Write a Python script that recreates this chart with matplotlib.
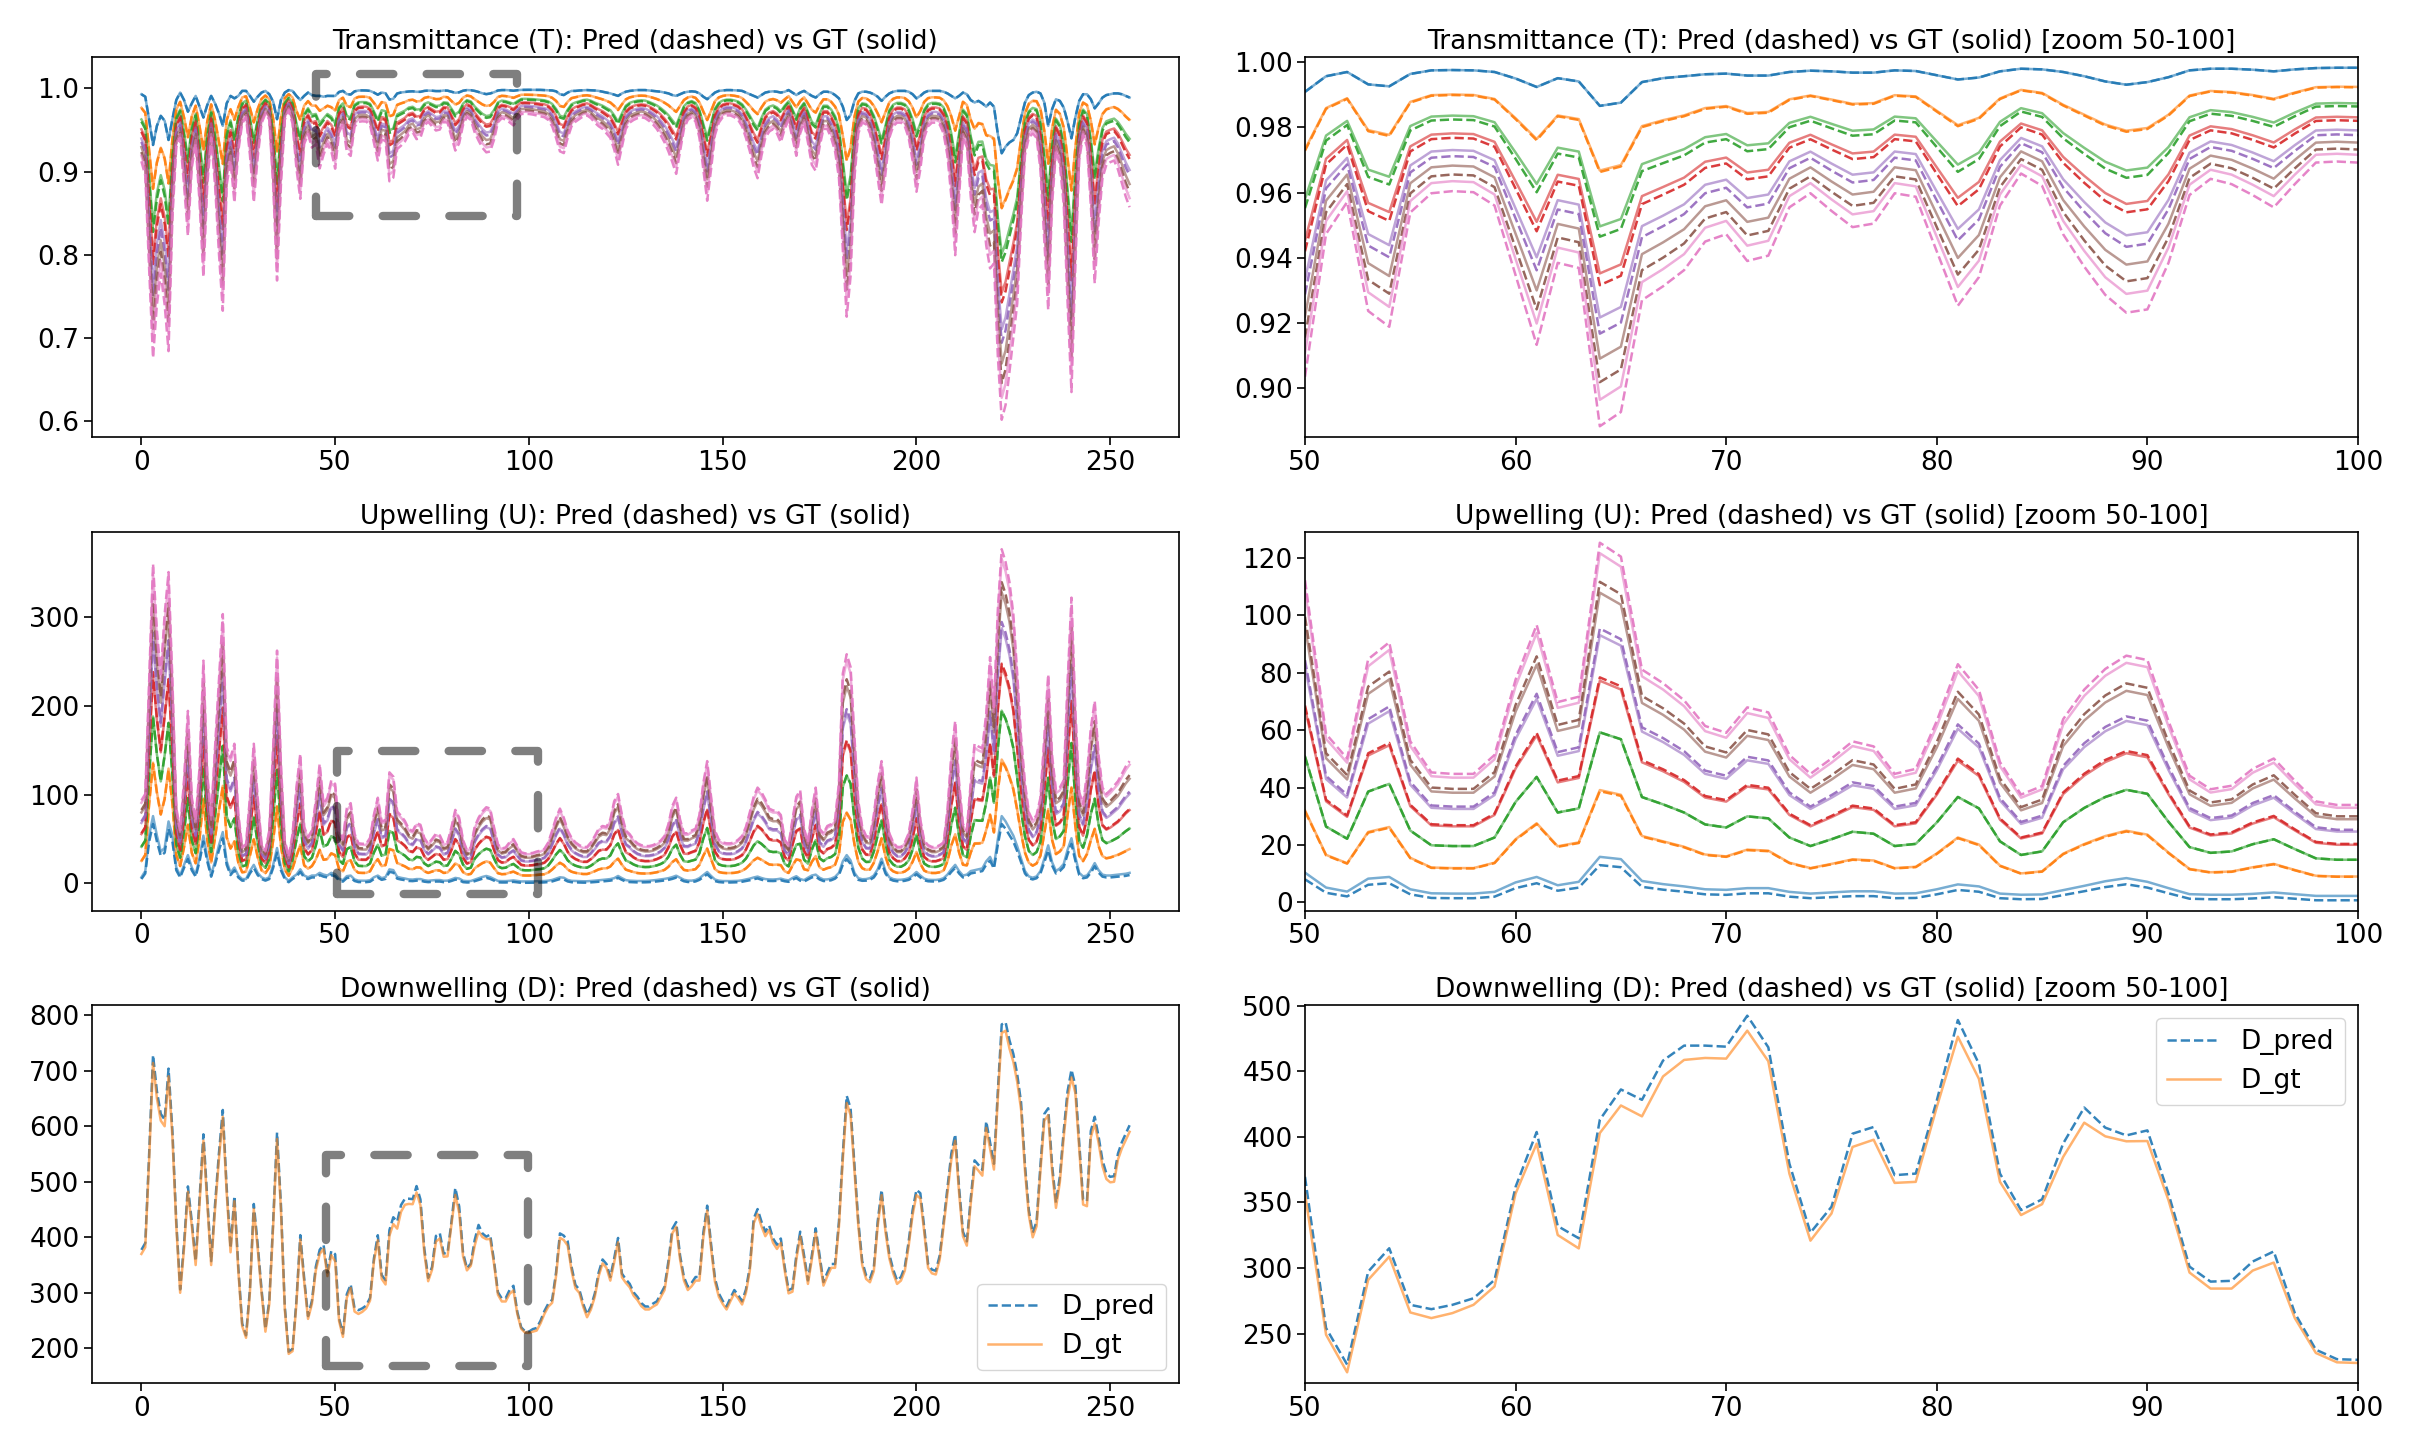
import numpy as np
import matplotlib
matplotlib.use("Agg")
import matplotlib.pyplot as plt
from matplotlib.patches import Rectangle

# ---------------- data ----------------
x = np.arange(256)

# Transmittance: top-most curve (blue) and bottom-most curve (pink), GT
T_top = [
    0.993, 0.990, 0.962, 0.932, 0.955, 0.967, 0.961, 0.938, 0.963, 0.986,
    0.995, 0.986, 0.972, 0.982, 0.991, 0.978, 0.965, 0.980, 0.991, 0.982,
    0.970, 0.955, 0.982, 0.991, 0.988, 0.991, 0.997, 0.997, 0.991, 0.984,
    0.990, 0.995, 0.997, 0.993, 0.984, 0.963, 0.986, 0.995, 0.998, 0.997,
    0.991, 0.986, 0.991, 0.995, 0.992, 0.991, 0.991, 0.990, 0.991, 0.991,
    0.9909, 0.9957, 0.9970, 0.9932, 0.9926, 0.9964, 0.9975, 0.9976, 0.9975, 0.9970,
    0.9950, 0.9924, 0.9951, 0.9941, 0.9866, 0.9876, 0.9939, 0.9951, 0.9957, 0.9963,
    0.9965, 0.9959, 0.9959, 0.9970, 0.9974, 0.9972, 0.9968, 0.9968, 0.9975, 0.9973,
    0.9960, 0.9947, 0.9953, 0.9972, 0.9980, 0.9978, 0.9970, 0.9957, 0.9941, 0.9931,
    0.9939, 0.9954, 0.9975, 0.9980, 0.9980, 0.9977, 0.9972, 0.9978, 0.9982, 0.9983,
    0.9983, 0.9983, 0.9983, 0.9982, 0.9980, 0.9978, 0.9975, 0.9965, 0.993, 0.992,
    0.995, 0.997, 0.997, 0.9975, 0.9978, 0.998, 0.9978, 0.9975, 0.997, 0.996,
    0.995, 0.994, 0.9925, 0.991, 0.994, 0.996, 0.997, 0.9975, 0.998, 0.998,
    0.998, 0.9975, 0.997, 0.9965, 0.996, 0.995, 0.994, 0.992, 0.991, 0.993,
    0.995, 0.996, 0.9965, 0.996, 0.994, 0.990, 0.987, 0.991, 0.995, 0.997,
    0.9975, 0.998, 0.998, 0.9978, 0.9975, 0.997, 0.995, 0.993, 0.991, 0.989,
    0.992, 0.995, 0.996, 0.9965, 0.996, 0.995, 0.996, 0.998, 0.995, 0.992,
    0.995, 0.997, 0.994, 0.991, 0.989, 0.993, 0.996, 0.996, 0.995, 0.992,
    0.988, 0.978, 0.962, 0.968, 0.985, 0.994, 0.996, 0.996, 0.995, 0.993,
    0.990, 0.985, 0.990, 0.994, 0.996, 0.997, 0.997, 0.997, 0.996, 0.993,
    0.988, 0.991, 0.995, 0.997, 0.997, 0.997, 0.997, 0.996, 0.994, 0.991,
    0.988, 0.991, 0.995, 0.993, 0.986, 0.983, 0.985, 0.982, 0.978, 0.983,
    0.978, 0.945, 0.922, 0.930, 0.935, 0.938, 0.946, 0.965, 0.983, 0.992,
    0.995, 0.996, 0.994, 0.983, 0.955, 0.975, 0.987, 0.985, 0.977, 0.960,
    0.940, 0.965, 0.985, 0.993, 0.993, 0.987, 0.976, 0.982, 0.989, 0.992,
    0.993, 0.994, 0.994, 0.993, 0.991, 0.989,
]
T_bottom = [
    0.919, 0.903, 0.797, 0.697, 0.758, 0.793, 0.758, 0.705, 0.854, 0.934,
    0.945, 0.892, 0.835, 0.911, 0.938, 0.873, 0.789, 0.892, 0.945, 0.892,
    0.816, 0.751, 0.892, 0.919, 0.873, 0.930, 0.961, 0.968, 0.926, 0.873,
    0.923, 0.961, 0.972, 0.965, 0.892, 0.785, 0.892, 0.965, 0.976, 0.961,
    0.911, 0.877, 0.938, 0.949, 0.934, 0.938, 0.911, 0.926, 0.938, 0.930,
    0.9107, 0.9513, 0.9604, 0.9294, 0.9249, 0.9574, 0.9629, 0.9635, 0.9632, 0.9594,
    0.9396, 0.9198, 0.9431, 0.9416, 0.8964, 0.9005, 0.9325, 0.9365, 0.9411, 0.9492,
    0.9513, 0.9437, 0.9452, 0.9589, 0.9629, 0.9579, 0.9533, 0.9543, 0.9629, 0.9619,
    0.9464, 0.9310, 0.9391, 0.9594, 0.9685, 0.9650, 0.9513, 0.9421, 0.9340, 0.9289,
    0.9299, 0.9431, 0.9624, 0.9670, 0.9655, 0.9624, 0.9589, 0.9655, 0.9716, 0.9719,
    0.9716, 0.971, 0.970, 0.969, 0.968, 0.965, 0.958, 0.945, 0.930, 0.928,
    0.945, 0.958, 0.963, 0.966, 0.969, 0.970, 0.967, 0.962, 0.958, 0.955,
    0.950, 0.945, 0.932, 0.915, 0.935, 0.955, 0.962, 0.965, 0.967, 0.968,
    0.967, 0.964, 0.960, 0.955, 0.948, 0.940, 0.930, 0.918, 0.905, 0.930,
    0.955, 0.965, 0.968, 0.963, 0.945, 0.910, 0.875, 0.910, 0.948, 0.962,
    0.968, 0.970, 0.970, 0.968, 0.965, 0.958, 0.945, 0.930, 0.912, 0.900,
    0.925, 0.945, 0.952, 0.955, 0.950, 0.940, 0.955, 0.965, 0.945, 0.925,
    0.950, 0.962, 0.940, 0.915, 0.908, 0.935, 0.955, 0.955, 0.945, 0.930,
    0.900, 0.820, 0.745, 0.790, 0.900, 0.950, 0.962, 0.960, 0.950, 0.930,
    0.900, 0.870, 0.905, 0.945, 0.958, 0.962, 0.962, 0.958, 0.945, 0.920,
    0.885, 0.910, 0.945, 0.958, 0.962, 0.962, 0.960, 0.950, 0.925, 0.880,
    0.815, 0.880, 0.945, 0.935, 0.880, 0.840, 0.865, 0.870, 0.825, 0.800,
    0.805, 0.700, 0.628, 0.645, 0.682, 0.720, 0.758, 0.850, 0.925, 0.945,
    0.950, 0.945, 0.910, 0.830, 0.752, 0.870, 0.930, 0.915, 0.870, 0.760,
    0.660, 0.800, 0.920, 0.948, 0.935, 0.870, 0.783, 0.850, 0.900, 0.915,
    0.918, 0.920, 0.910, 0.895, 0.880, 0.868,
]
# relative position of each of the 7 curves between top and bottom curve
T_mix_gt = [0.0, 0.22, 0.41, 0.57, 0.72, 0.86, 1.0]
T_mix_pred = [0.0, 0.225, 0.445, 0.61, 0.775, 0.94, 1.09]

# Upwelling: lowest curve (blue) and highest curve (pink), GT
U_low = [
    7, 14, 54, 76, 54, 36, 40, 70, 54, 18,
    9, 21, 32, 18, 10, 29, 54, 29, 10, 25,
    43, 58, 25, 12, 18, 9, 5, 5, 14, 21,
    12, 7, 5, 7, 21, 40, 18, 7, 3, 7,
    10, 16, 9, 7, 9, 9, 12, 10, 9, 12,
    10.4, 5.2, 3.8, 8.3, 8.9, 4.6, 3.2, 3.1, 3.1, 3.7,
    7.0, 8.9, 6.0, 7.2, 15.9, 15.1, 7.5, 6.4, 5.6, 4.6,
    4.4, 5.0, 5.0, 3.7, 3.1, 3.5, 3.9, 3.9, 3.1, 3.2,
    4.6, 6.3, 5.6, 3.1, 2.7, 2.8, 4.3, 5.8, 7.4, 8.5,
    7.2, 5.0, 2.9, 2.7, 2.7, 3.0, 3.5, 2.9, 2.3, 2.3,
    2.3, 2.4, 2.5, 2.6, 2.8, 3.2, 4.0, 5.5, 7.0, 6.5,
    4.0, 3.0, 2.8, 2.6, 2.5, 2.5, 2.8, 3.2, 3.6, 4.0,
    4.5, 5.0, 6.0, 8.5, 6.0, 3.8, 3.2, 3.0, 2.8, 2.8,
    2.9, 3.1, 3.5, 4.0, 4.6, 5.2, 6.0, 7.2, 8.8, 6.5,
    4.2, 3.3, 3.2, 4.0, 6.0, 9.5, 13.0, 8.5, 4.5, 3.2,
    2.8, 2.7, 2.7, 2.8, 3.0, 3.6, 4.5, 5.5, 6.8, 7.8,
    6.2, 5.0, 4.6, 4.5, 4.8, 5.5, 4.2, 3.5, 6.2, 8.2,
    5.0, 3.8, 6.5, 9.0, 10.0, 6.5, 4.5, 4.6, 5.5, 7.5,
    12, 25, 32, 26, 12, 6, 4.8, 5, 6, 9,
    16, 28, 14, 7, 5, 4.2, 4.2, 4.8, 6, 9,
    13, 9, 5.5, 4.2, 4, 4, 4.5, 6, 10, 16,
    21, 14, 9, 10, 14, 15, 16, 17, 25, 30,
    20, 50, 76, 70, 62, 54, 42, 28, 14, 8,
    6.5, 8, 14, 28, 43, 24, 14, 17, 22, 38,
    51, 30, 12, 8, 9, 15, 23, 15, 10, 9,
    9, 9.5, 10, 10.5, 11, 12,
]
U_high = [
    91, 98, 222, 350, 277, 229, 295, 341, 222, 83,
    58, 113, 189, 94, 69, 127, 244, 120, 72, 149,
    222, 295, 149, 138, 153, 76, 40, 43, 94, 153,
    94, 43, 36, 58, 149, 255, 131, 47, 29, 54,
    105, 142, 62, 51, 58, 91, 131, 87, 94, 113,
    109, 57, 48.7, 82.3, 88, 54.5, 44, 43.5, 43.5, 49.9,
    75.4, 93.9, 67.8, 69.6, 121.7, 117, 78.8, 74.2, 68.4, 59.7,
    57.4, 66, 64.3, 49.9, 43.5, 48.7, 54.5, 52.8, 43.5, 45.2,
    61.4, 80.6, 71.9, 47.5, 36.5, 39.4, 62, 72, 79, 83.5,
    82, 61.4, 42.9, 38.3, 39.5, 45.2, 48.7, 41.2, 34.2, 33,
    33, 33.5, 35, 36, 38, 45, 58, 72, 82, 72,
    58, 50, 45, 42, 40, 40, 45, 52, 60, 63,
    62, 70, 90, 98, 75, 58, 54, 48, 44, 42,
    41, 41, 42, 44, 47, 52, 65, 85, 94, 70,
    55, 55, 58, 60, 75, 110, 134, 95, 58, 48,
    45, 44, 44, 45, 48, 52, 62, 78, 95, 105,
    100, 92, 82, 80, 80, 75, 48, 42, 70, 95,
    102, 60, 45, 80, 105, 60, 55, 63, 65, 70,
    110, 230, 251, 237, 160, 90, 62, 52, 51, 75,
    110, 134, 90, 55, 45, 40, 40, 45, 55, 80,
    116, 70, 47, 42, 40, 40, 42, 45, 80, 140,
    178, 110, 65, 58, 110, 153, 150, 148, 186, 248,
    193, 300, 366, 352, 330, 295, 230, 160, 110, 78,
    69, 75, 94, 160, 229, 140, 102, 105, 113, 220,
    313, 190, 100, 87, 120, 170, 200, 140, 105, 98,
    102, 107, 112, 120, 128, 134,
]
U_mix = [0.0, 0.22, 0.41, 0.58, 0.73, 0.87, 1.0]
U_pred_gain = [0.9, 0.99, 1.0, 1.015, 1.025, 1.035, 1.03]
U_pred_shift = [-1.3, 0, 0, 0, 0, 0, 0]

# Downwelling
D_gt = [
    370, 382, 540, 714, 650, 610, 600, 690, 580, 420,
    300, 380, 482, 420, 350, 460, 574, 460, 350, 450,
    540, 617, 480, 373, 465, 340, 240, 219, 300, 451,
    380, 300, 230, 280, 420, 577, 450, 270, 190, 195,
    280, 396, 320, 253, 280, 340, 370, 379, 330, 368,
    356.8, 249.2, 220.6, 291, 308.7, 266.2, 261.9, 265.7, 272, 286,
    356.8, 394.8, 325.2, 315, 402.9, 423.9, 415.6, 446, 458.6, 460.1,
    459.6, 480.9, 457.6, 372, 320.9, 341.6, 392.3, 397.8, 364.9, 365.7,
    422.7, 476.3, 444.2, 365.7, 340.4, 348.7, 384.7, 410.8, 400.4, 396.6,
    396.8, 351.8, 296.6, 284.4, 284.4, 298.1, 304.2, 261.9, 235.3, 228.2,
    227.7, 230, 232, 245, 262, 275, 282, 330, 399, 395,
    385, 340, 308, 300, 275, 256, 270, 293, 330, 353,
    345, 322, 355, 391, 328, 318, 310, 295, 287, 276,
    270, 270, 275, 279, 292, 305, 350, 407, 419, 360,
    322, 305, 312, 322, 322, 400, 448, 380, 320, 293,
    280, 270, 285, 299, 290, 279, 300, 340, 425, 442,
    420, 402, 413, 390, 379, 390, 340, 299, 302, 360,
    402, 360, 316, 360, 408, 360, 313, 330, 345, 345,
    420, 540, 642, 620, 520, 420, 350, 325, 319, 339,
    420, 476, 410, 362, 335, 316, 322, 340, 385, 440,
    476, 470, 410, 345, 335, 333, 360, 419, 480, 540,
    574, 480, 402, 385, 460, 528, 520, 511, 597, 560,
    522, 650, 768, 772, 740, 716, 680, 630, 520, 440,
    400, 420, 520, 610, 620, 520, 453, 499, 580, 650,
    688, 660, 560, 459, 456, 580, 605, 570, 528, 505,
    499, 500, 540, 560, 575, 590,
]
D_pred_zoom = [  # x = 50 ... 100
    369.5, 254.3, 226.5, 297.3, 315.1, 272, 268.7, 272, 277, 291,
    361.9, 403.7, 332, 322.7, 413, 436.1, 428.2, 458.1, 469.5, 469.5,
    468.7, 492.3, 468.2, 379.6, 327, 346.7, 402.4, 407.5, 370.8, 372,
    427.7, 489, 455.6, 372, 344.2, 352.4, 394.9, 422.3, 407, 401.1,
    404.9, 356.8, 301.1, 289.7, 290.3, 305, 312.7, 265.7, 237.8, 230.6,
    230.1,
]
D_pred_gain = 1.02

# zoom-indicator boxes drawn on the left panels: (x0, x1, y0, y1)
box_T = (45.0, 97.0, 0.846, 1.017)
box_U = (50.5, 102.4, -11.6, 149.0)
box_D = (47.7, 99.8, 168.5, 548.0)

# ---------------- build series ----------------
T_top = np.array(T_top); T_bottom = np.array(T_bottom)
U_low = np.array(U_low); U_high = np.array(U_high)
D_gt = np.array(D_gt, dtype=float)

T_gt = [T_top + m * (T_bottom - T_top) for m in T_mix_gt]
T_pred = [T_top + m * (T_bottom - T_top) for m in T_mix_pred]
U_gt = [U_low + m * (U_high - U_low) for m in U_mix]
U_pred = [g * a + b for g, a, b in zip(U_gt, U_pred_gain, U_pred_shift)]
D_pred = D_gt * D_pred_gain
D_pred[50:101] = D_pred_zoom

colors = plt.rcParams['axes.prop_cycle'].by_key()['color'][:7]

# ---------------- figure ----------------
fig = plt.figure(figsize=(24.14, 14.49), dpi=100)
W, H = 2414.0, 1449.0
def pos(l, r, t, b):
    return [l / W, 1 - b / H, (r - l) / W, (b - t) / H]

rows = [(57, 437), (532, 911), (1005, 1383)]
axL = [fig.add_axes(pos(92, 1179, t, b)) for t, b in rows]
axR = [fig.add_axes(pos(1305, 2358, t, b)) for t, b in rows]

LW = 1.8
TITLE_FS = 19
TICK_FS = 19
A_GT = 0.6
A_PRED = 0.9

def style(ax):
    ax.tick_params(labelsize=TICK_FS, length=5.5, width=1.2)
    for s in ax.spines.values():
        s.set_linewidth(1.2)

def box(ax, b):
    x0, x1, y0, y1 = b
    ax.add_patch(Rectangle((x0, y0), x1 - x0, y1 - y0, fill=False,
                           edgecolor='black', alpha=0.5, lw=6,
                           linestyle=(0, (4, 4)), capstyle='round',
                           joinstyle='round', zorder=5))

def zoom_limits(ax, arrays):
    seg = np.concatenate([np.asarray(a)[50:101] for a in arrays])
    lo, hi = seg.min(), seg.max()
    pad = 0.03 * (hi - lo)
    ax.set_xlim(50, 100)
    ax.set_ylim(lo - pad, hi + pad)

xs = x[50:101]

# Transmittance
for i in range(7):
    axL[0].plot(x, T_pred[i], '--', color=colors[i], lw=LW, alpha=A_PRED)
    axL[0].plot(x, T_gt[i], '-', color=colors[i], lw=LW, alpha=A_GT)
    axR[0].plot(xs, T_pred[i][50:101], '--', color=colors[i], lw=LW, alpha=A_PRED)
    axR[0].plot(xs, T_gt[i][50:101], '-', color=colors[i], lw=LW, alpha=A_GT)
axL[0].set_title("Transmittance (T): Pred (dashed) vs GT (solid)", fontsize=TITLE_FS)
axR[0].set_title("Transmittance (T): Pred (dashed) vs GT (solid) [zoom 50-100]", fontsize=TITLE_FS)
box(axL[0], box_T)
zoom_limits(axR[0], T_gt + T_pred)

# Upwelling
for i in range(7):
    axL[1].plot(x, U_pred[i], '--', color=colors[i], lw=LW, alpha=A_PRED)
    axL[1].plot(x, U_gt[i], '-', color=colors[i], lw=LW, alpha=A_GT)
    axR[1].plot(xs, U_pred[i][50:101], '--', color=colors[i], lw=LW, alpha=A_PRED)
    axR[1].plot(xs, U_gt[i][50:101], '-', color=colors[i], lw=LW, alpha=A_GT)
axL[1].set_title("Upwelling (U): Pred (dashed) vs GT (solid)", fontsize=TITLE_FS)
axR[1].set_title("Upwelling (U): Pred (dashed) vs GT (solid) [zoom 50-100]", fontsize=TITLE_FS)
box(axL[1], box_U)
zoom_limits(axR[1], U_gt + U_pred)

# Downwelling
axL[2].plot(x, D_pred, '--', color=colors[0], lw=LW, alpha=A_PRED, label='D_pred')
axL[2].plot(x, D_gt, '-', color=colors[1], lw=LW, alpha=A_GT, label='D_gt')
axR[2].plot(xs, D_pred[50:101], '--', color=colors[0], lw=LW, alpha=A_PRED, label='D_pred')
axR[2].plot(xs, D_gt[50:101], '-', color=colors[1], lw=LW, alpha=A_GT, label='D_gt')
axL[2].set_title("Downwelling (D): Pred (dashed) vs GT (solid)", fontsize=TITLE_FS)
axR[2].set_title("Downwelling (D): Pred (dashed) vs GT (solid) [zoom 50-100]", fontsize=TITLE_FS)
box(axL[2], box_D)
zoom_limits(axR[2], [D_gt, D_pred])
axL[2].legend(loc='lower right', fontsize=19)
axR[2].legend(loc='upper right', fontsize=19)

for ax in axL + axR:
    style(ax)

fig.savefig("out.png", dpi=100)
